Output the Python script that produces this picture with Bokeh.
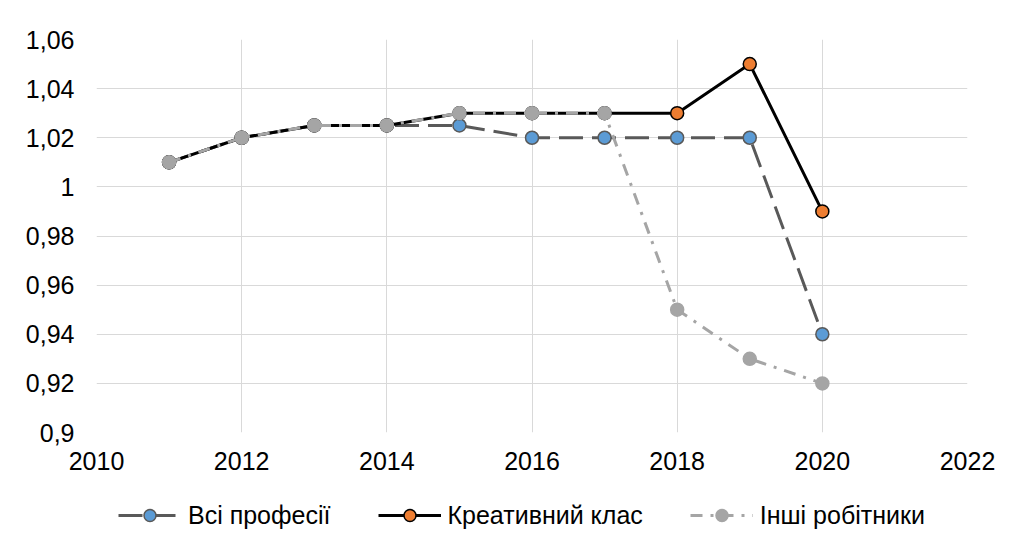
from bokeh.plotting import figure
from bokeh.layouts import column
from bokeh.models import Range1d, FixedTicker, CustomJSTickFormatter, Legend, LegendItem
from bokeh.embed import file_html
from bokeh.resources import INLINE

years = [2011, 2012, 2013, 2014, 2015, 2016, 2017, 2018, 2019, 2020]
all_prof = [1.01, 1.02, 1.025, 1.025, 1.025, 1.02, 1.02, 1.02, 1.02, 0.94]
creative = [1.01, 1.02, 1.025, 1.025, 1.03, 1.03, 1.03, 1.03, 1.05, 0.99]
others = [1.01, 1.02, 1.025, 1.025, 1.03, 1.03, 1.03, 0.95, 0.93, 0.92]
names = ["Всі професії", "Креативний клас", "Інші робітники"]
x_ticks = [2010, 2012, 2014, 2016, 2018, 2020, 2022]
y_ticks = [0.9, 0.92, 0.94, 0.96, 0.98, 1.0, 1.02, 1.04, 1.06]

FONT = "Liberation Sans"
FS = "25px"

styles = [
    dict(line=dict(line_color="#595959", line_width=3, line_dash="24 9"),
         mark=dict(size=13, fill_color="#5B9BD5", line_color="#595959", line_width=1.5)),
    dict(line=dict(line_color="#000000", line_width=3),
         mark=dict(size=13, fill_color="#ED7D31", line_color="#000000", line_width=1.5)),
    dict(line=dict(line_color="#A5A5A5", line_width=3, line_dash="12 8 3 8"),
         mark=dict(size=13, fill_color="#A5A5A5", line_color="#A5A5A5", line_width=1.5)),
]
series = [all_prof, creative, others]

p = figure(width=1008, height=484, output_backend="svg", toolbar_location=None,
           x_range=Range1d(2010, 2022), y_range=Range1d(0.9, 1.06),
           min_border_left=96, min_border_right=41, min_border_top=39, min_border_bottom=52)
p.outline_line_color = None
p.background_fill_color = "white"
p.border_fill_color = "white"

for ax in (p.xaxis[0], p.yaxis[0]):
    ax.axis_line_color = None
    ax.major_tick_line_color = None
    ax.minor_tick_line_color = None
    ax.major_label_text_font = FONT
    ax.major_label_text_font_size = FS
    ax.major_label_text_color = "#000000"
p.xaxis.ticker = FixedTicker(ticks=x_ticks)
p.yaxis.ticker = FixedTicker(ticks=y_ticks)
p.xaxis.major_label_standoff = 13
p.yaxis.major_label_standoff = 16
p.yaxis.formatter = CustomJSTickFormatter(code="""
var s = tick.toFixed(2).replace(/0+$/, '').replace(/\\.$/, '');
return s.replace('.', ',');
""")
p.xgrid.ticker = FixedTicker(ticks=x_ticks)
p.ygrid.ticker = FixedTicker(ticks=y_ticks)
p.grid.grid_line_color = "#d9d9d9"
p.grid.grid_line_width = 1

for vals, st in zip(series, styles):
    p.line(years, vals, **st["line"])
    p.scatter(years, vals, **st["mark"])

# legend strip below the chart (its renderers use the same data, outside its view)
p2 = figure(width=1008, height=56, output_backend="svg", toolbar_location=None,
            x_range=Range1d(0, 1), y_range=Range1d(0, 1),
            x_axis_location=None, y_axis_location=None,
            min_border_left=96, min_border_right=41, min_border_top=0, min_border_bottom=0)
p2.grid.visible = False
p2.outline_line_color = None
p2.background_fill_color = "white"
p2.border_fill_color = "white"

items = []
for name, vals, st in zip(names, series, styles):
    lr = p2.line(years, vals, **st["line"])
    sr = p2.scatter(years, vals, **st["mark"])
    items.append(LegendItem(label=name, renderers=[lr, sr]))

legend = Legend(items=items, orientation="horizontal", location=(22, 10),
                label_text_font=FONT, label_text_font_size=FS, label_text_color="#000000",
                glyph_width=63, glyph_height=30, label_standoff=7, spacing=47,
                border_line_color=None, background_fill_alpha=0, padding=0, margin=0)
p2.add_layout(legend)

layout = column(p, p2, spacing=0)
open("out.html", "w").write(file_html(layout, INLINE))
